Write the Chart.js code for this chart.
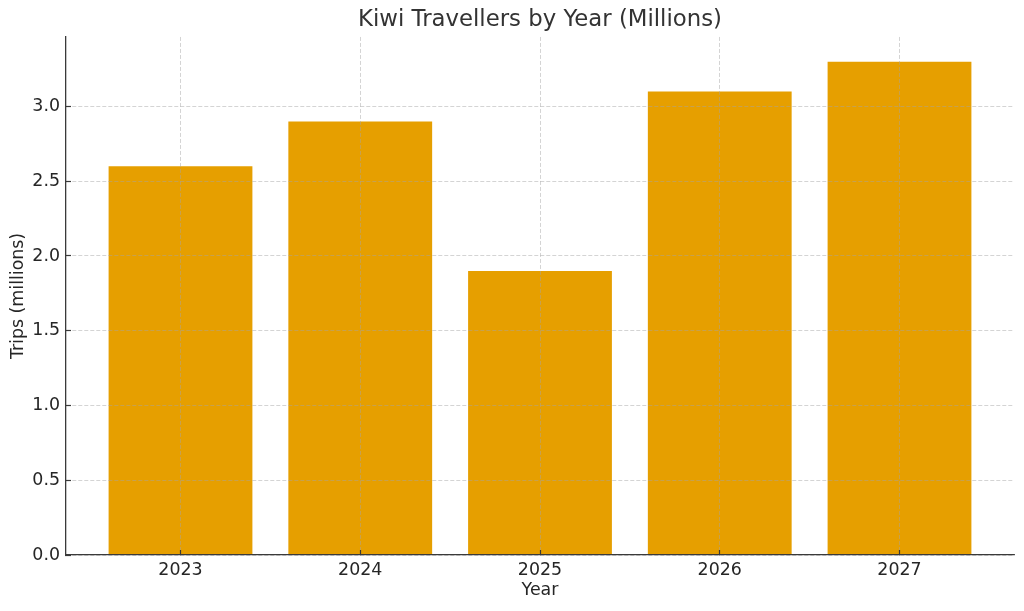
<!DOCTYPE html>
<html>
<head>
<meta charset="utf-8">
<script src="https://cdn.jsdelivr.net/npm/chart.js@4/dist/chart.umd.min.js"></script>
<style>
  html, body { margin: 0; padding: 0; background: #ffffff; }
  #wrap { width: 1024px; height: 611px; }
</style>
</head>
<body>
<div id="wrap"><canvas id="c" width="1024" height="611"></canvas></div>
<script>
const years = ["2023", "2024", "2025", "2026", "2027"];
const trips = [2.6, 2.9, 1.9, 3.1, 3.3];
const yTicks = [0.0, 0.5, 1.0, 1.5, 2.0, 2.5, 3.0];
const chartTitle = "Kiwi Travellers by Year (Millions)";
const xTitle = "Year";
const yTitle = "Trips (millions)";

const FONT = "'DejaVu Sans', sans-serif";
const gridColor = "rgba(165,165,165,0.6)";
const spineColor = "#3a3a3a";
const textColor = "#262626";

const points = years.map((y, i) => ({ x: i, y: trips[i] }));

new Chart(document.getElementById("c"), {
  type: "bar",
  data: {
    datasets: [{
      label: yTitle,
      data: points,
      backgroundColor: "#E69F00",
      borderWidth: 0,
      categoryPercentage: 0.8,
      barPercentage: 1.0
    }]
  },
  options: {
    responsive: false,
    animation: false,
    devicePixelRatio: 1,
    layout: { padding: { left: 0, right: 10, top: 0, bottom: 0 } },
    plugins: {
      legend: { display: false },
      tooltip: { enabled: false },
      title: {
        display: true,
        fullSize: false,
        text: chartTitle,
        color: "#333333",
        font: { family: FONT, size: 22.8, weight: "normal", lineHeight: 1.2 },
        padding: { top: 6.3, bottom: 3.3 }
      }
    },
    scales: {
      x: {
        type: "linear",
        min: -0.637,
        max: 4.637,
        offset: false,
        afterBuildTicks: (scale) => { scale.ticks = years.map((_, i) => ({ value: i })); },
        afterFit: (scale) => { scale.height = 56; },
        ticks: {
          color: textColor,
          font: { family: FONT, size: 17.4 },
          padding: 10,
          maxRotation: 0,
          autoSkip: false,
          callback: (v) => years[v] !== undefined ? years[v] : ""
        },
        grid: {
          display: true,
          offset: false,
          z: 1,
          color: gridColor,
          lineWidth: 0.8,
          drawTicks: true,
          tickLength: -5,
          tickColor: spineColor,
          tickWidth: 1.2,
          tickBorderDash: []
        },
        border: { display: true, color: spineColor, width: 1.3, z: 2, dash: [4, 2] },
        title: {
          display: true,
          text: xTitle,
          color: textColor,
          font: { family: FONT, size: 17.4 },
          padding: { top: 0, bottom: 10 }
        }
      },
      y: {
        type: "linear",
        min: 0,
        max: 3.465,
        afterBuildTicks: (scale) => { scale.ticks = yTicks.map(v => ({ value: v })); },
        afterFit: (scale) => { scale.width = 66; },
        ticks: {
          color: textColor,
          font: { family: FONT, size: 17.4 },
          padding: 11,
          callback: (v) => Number(v).toFixed(1)
        },
        grid: {
          display: true,
          offset: false,
          z: 1,
          color: gridColor,
          lineWidth: 0.8,
          drawTicks: true,
          tickLength: -5,
          tickColor: spineColor,
          tickWidth: 1.2,
          tickBorderDash: []
        },
        border: { display: true, color: spineColor, width: 1.3, z: 2, dash: [4, 2] },
        title: {
          display: true,
          text: yTitle,
          color: textColor,
          font: { family: FONT, size: 17.4 },
          padding: { top: 8, bottom: 0 }
        }
      }
    }
  }
});
</script>
</body>
</html>
